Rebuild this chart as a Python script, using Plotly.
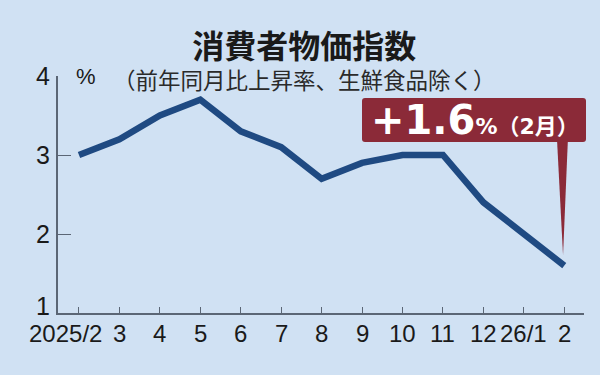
import plotly.graph_objects as go

# ---- data ----
months = ["2025/2", "3", "4", "5", "6", "7", "8", "9", "10", "11", "12", "26/1", "2"]
cpi = [3.0, 3.2, 3.5, 3.7, 3.3, 3.1, 2.7, 2.9, 3.0, 3.0, 2.4, 2.0, 1.6]
y_ticks = [1, 2, 3, 4]
y_tick_labels = ["1", "2", "3", "4"]

title_text = "消費者物価指数"
subtitle_text = "（前年同月比上昇率、生鮮食品除く）"
callout_value = "+1.6"
callout_suffix = "%（2月）"

BG = "#D0E1F3"
LINE = "#1F4A82"
RED = "#8B2A38"
AXIS = "#5B6675"
NUMFONT = "Liberation Sans, Arial, sans-serif"
CJK = "Noto Sans CJK JP"

L, R, T, B = 58, 16, 76, 62
W, H = 600, 375
pw, ph = W - L - R, H - T - B


def px_x(p):
    return (p - L) / pw


def px_y(p):
    return (H - B - p) / ph


x = list(range(len(months)))

fig = go.Figure()
fig.add_trace(go.Scatter(
    x=x, y=cpi, mode="lines",
    line=dict(color=LINE, width=6.5),
    hoverinfo="skip", showlegend=False,
))

annotations = []
# x tick labels
for i, m in enumerate(months):
    annotations.append(dict(
        x=i, y=0, xref="x", yref="paper", xanchor="center", yanchor="top",
        yshift=-5, xshift=-13 if i == 0 else 0,
        text=m, showarrow=False,
        font=dict(family=NUMFONT, size=24, color="#1a1a1a"),
    ))
# y tick labels
for v, t in zip(y_ticks, y_tick_labels):
    annotations.append(dict(
        x=0, y=v, xref="paper", yref="y", xanchor="right", yanchor="middle",
        xshift=-6, yshift=7 if v == 1 else 0,
        text=t, showarrow=False,
        font=dict(family=NUMFONT, size=25, color="#1a1a1a"),
    ))
# percent unit
annotations.append(dict(
    x=0, y=4, xref="paper", yref="y", xanchor="left", yanchor="middle", xshift=16,
    text="%", showarrow=False,
    font=dict(family=NUMFONT, size=22, color="#1a1a1a"),
))
# title & subtitle as one two-line text block
annotations.append(dict(
    x=px_x(304.5), y=px_y(58), xref="paper", yref="paper",
    xanchor="center", yanchor="middle", showarrow=False, align="center",
    text=("<span style='font-size:32px;color:#1a1a1a'><b>" + title_text + "</b></span>"
          + "<br><span style='font-size:22.5px;color:#2a2a2a'>" + subtitle_text + "</span>"),
    font=dict(family=CJK, size=24, color="#1a1a1a"),
))

# callout box (paper coords)
bx0, bx1 = px_x(362), px_x(586)
by0, by1 = px_y(142), px_y(98)
rx, ry = 3 / pw, 3 / ph
box_path = (
    f"M {bx0+rx},{by1} L {bx1-rx},{by1} Q {bx1},{by1} {bx1},{by1-ry} "
    f"L {bx1},{by0+ry} Q {bx1},{by0} {bx1-rx},{by0} "
    f"L {bx0+rx},{by0} Q {bx0},{by0} {bx0},{by0+ry} "
    f"L {bx0},{by1-ry} Q {bx0},{by1} {bx0+rx},{by1} Z"
)
last_i = len(cpi) - 1
last_v = cpi[-1]
tip_y = last_v + 0.13
pointer_path = (
    f"M {last_i-0.18},{3.2} L {last_i+0.09},{3.2} L {last_i-0.03},{tip_y} Z"
)
shapes = [
    dict(type="path", path=box_path, xref="paper", yref="paper",
         fillcolor=RED, line=dict(width=0), layer="above"),
    dict(type="path", path=pointer_path, xref="x", yref="y",
         fillcolor=RED, line=dict(width=0), layer="above"),
]
annotations.append(dict(
    x=px_x(475), y=px_y(120), xref="paper", yref="paper",
    xanchor="center", yanchor="middle", showarrow=False,
    text=("<b>" + callout_value + "</b>"
          + "<span style='font-size:22px'><b>" + callout_suffix + "</b></span>"),
    font=dict(family="DejaVu Sans, " + CJK, size=40, color="white"),
))

fig.update_layout(
    width=W, height=H,
    margin=dict(l=L, r=R, t=T, b=B, pad=0),
    paper_bgcolor=BG, plot_bgcolor=BG,
    xaxis=dict(
        range=[-0.519, 12.488], tickmode="array", tickvals=x,
        showticklabels=False, ticks="inside", ticklen=6, tickwidth=1.2,
        tickcolor=AXIS, showline=True, linecolor=AXIS, linewidth=1.5,
        showgrid=False, zeroline=False, fixedrange=True,
    ),
    yaxis=dict(
        range=[1, 4], tickmode="array", tickvals=y_ticks,
        showticklabels=False, ticks="inside", ticklen=13, tickwidth=1.2,
        tickcolor=AXIS, showline=True, linecolor=AXIS, linewidth=1.5,
        showgrid=False, zeroline=False, fixedrange=True,
    ),
    shapes=shapes,
    annotations=annotations,
)

fig.write_html("out.html")
